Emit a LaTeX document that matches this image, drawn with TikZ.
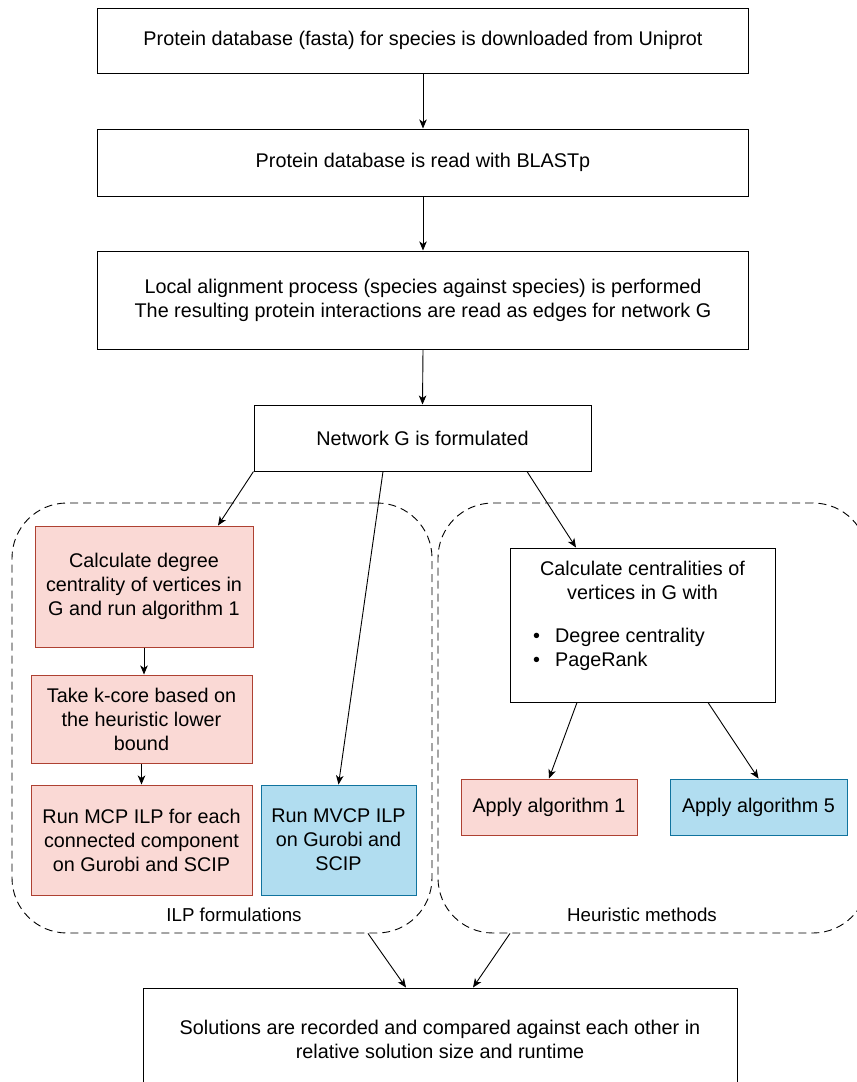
\documentclass[tikz,border=0pt]{standalone}
\usepackage{fontspec}
\setmainfont{Liberation Sans}
\usetikzlibrary{arrows.meta,calc}
\definecolor{pinkfill}{HTML}{FAD9D5}
\definecolor{pinkline}{HTML}{AE4132}
\definecolor{bluefill}{HTML}{B1DDF0}
\definecolor{blueline}{HTML}{10739E}
\begin{document}
\begin{tikzpicture}[x=1pt,y=-1pt,
  every node/.style={font=\fontsize{19.8}{24}\selectfont, inner sep=0pt, align=center},
  box/.style={draw=black, line width=1pt, fill=white},
  pinkbox/.style={draw=pinkline, fill=pinkfill, line width=1pt},
  bluebox/.style={draw=blueline, fill=bluefill, line width=1pt},
  group/.style={draw=black, dash pattern=on 8pt off 5pt, rounded corners=55pt, line width=0.9pt},
  grouplabel/.style={font=\fontsize{18.7}{22}\selectfont},
  arr/.style={-{Stealth[length=9pt,width=7.5pt,inset=2.5pt]}, line width=0.9pt},
]
\useasboundingbox (0,0) rectangle (857,1082);
\clip (0,0) rectangle (857,1082);
\fill[white] (0,0) rectangle (857,1082);

% groups
\node[group, minimum width=420, minimum height=430] (ilp) at (222,718) {};
\node[group, minimum width=430, minimum height=430] (heur) at (653,718) {};
\node[grouplabel] (ilpl) at (234,915) {ILP formulations};
\node[grouplabel] (heurl) at (642,915) {Heuristic methods};

% main flow
\node[box, minimum width=651, minimum height=65] (b1) at (423,40.5) {Protein database (fasta) for species is downloaded from Uniprot};
\node[box, minimum width=651, minimum height=67] (b2) at (423,162.5) {Protein database is read with BLASTp};
\node[box, minimum width=651, minimum height=98] (b3) at (423,300) {Local alignment process (species against species) is performed\\The resulting protein interactions are read as edges for network G};
\node[box, minimum width=337, minimum height=66] (net) at (422.5,438) {Network G is formulated};

% ILP side
\node[pinkbox, minimum width=218, minimum height=121] (p1) at (144,586.5) {Calculate degree\\centrality of vertices in\\G and run algorithm 1};
\node[pinkbox, minimum width=221, minimum height=88] (p2) at (141.5,719) {Take k-core based on\\the heuristic lower\\bound};
\node[pinkbox, minimum width=221, minimum height=110] (p3) at (141.5,840) {Run MCP ILP for each\\connected component\\on Gurobi and SCIP};
\node[bluebox, minimum width=155, minimum height=110] (mv) at (338.5,840) {Run MVCP ILP\\on Gurobi and\\SCIP};

% heuristic side
\node[box, minimum width=265, minimum height=154] (cent) at (642.5,625) {};
\node (centt) at (642.5,580) {Calculate centralities of\\vertices in G with};
\node[anchor=west, align=left] (centl) at (533,649) {\makebox[22pt][l]{\textbullet}Degree centrality\\\makebox[22pt][l]{\textbullet}PageRank};
\node[pinkbox, minimum width=176, minimum height=56] (a1) at (549,807) {Apply algorithm 1};
\node[bluebox, minimum width=177, minimum height=56] (a5) at (758.5,807) {Apply algorithm 5};

% final
\node[box, minimum width=594, minimum height=103] (fin) at (440,1039.5) {Solutions are recorded and compared against each other in\\relative solution size and runtime};

% connectors
\draw[arr] (b1.south) -- (b2.north);
\draw[arr] (b2.south) -- (b3.north);
\draw[arr] (b3.south) -- (net.south |- net.north);
\draw[arr] (net.south west) -- ([xshift=74pt]p1.north);
\draw[arr] ([xshift=-39.5pt]net.south) -- (mv.north);
\draw[arr] ([xshift=104.5pt]net.south) -- ([xshift=-66.5pt]cent.north);
\draw[arr] (p1.south) -- (p1.south |- p2.north);
\draw[arr] (p2.south) -- (p2.south |- p3.north);
\draw[arr] ([xshift=-65.5pt]cent.south) -- (a1.north);
\draw[arr] ([xshift=65.5pt]cent.south) -- (a5.north);
\draw[arr] ([xshift=146pt]ilp.south) -- ([xshift=-34pt]fin.north);
\draw[arr] ([xshift=-143pt]heur.south) -- ([xshift=33pt]fin.north);
\end{tikzpicture}
\end{document}
